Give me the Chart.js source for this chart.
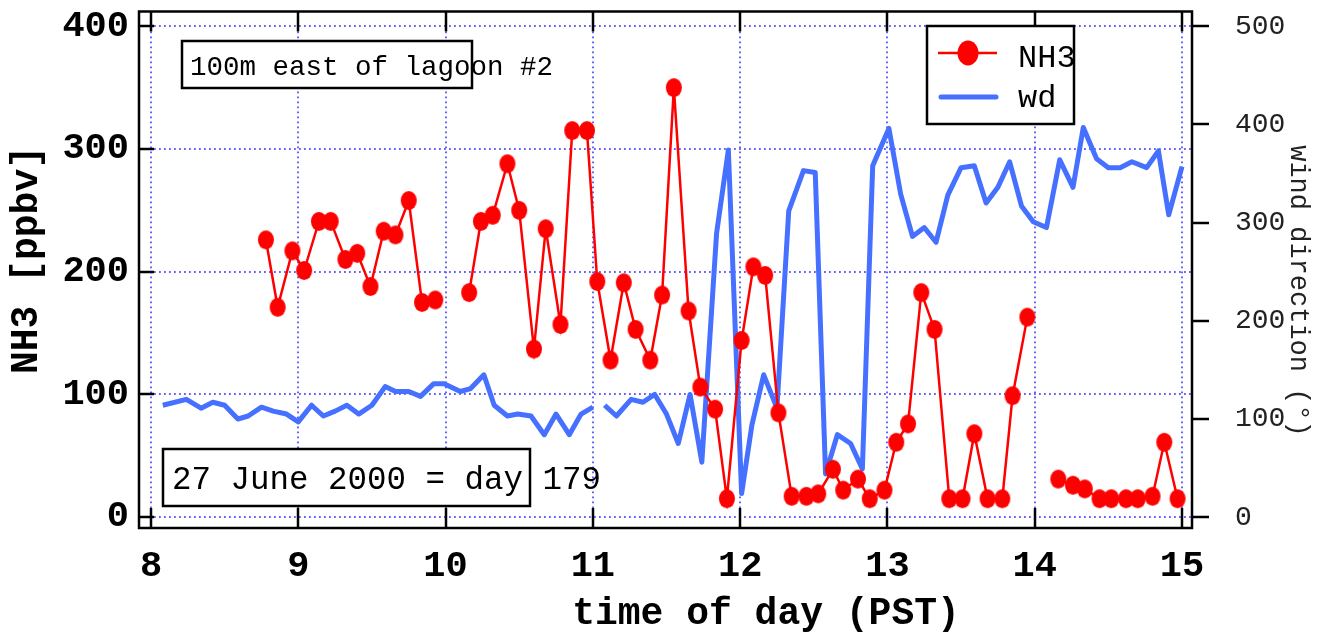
<!DOCTYPE html>
<html>
<head>
<meta charset="UTF-8">
<title>NH3 and wind direction - 27 June 2000</title>
<script src="https://cdn.jsdelivr.net/npm/chart.js"></script>
<style>
  body { margin: 0; background: #fff; }
  canvas { display: block; }
</style>
</head>
<body>
<canvas id="chart" width="1323" height="634"></canvas>
<script>
// time of day (PST, decimal hours); null marks a break in the record
const nh3Time = [8.78, 8.86, 8.96, 9.04, 9.14, 9.22, 9.32, 9.40, 9.49, 9.58, 9.66, 9.75, 9.84, 9.93, 10.05,
  10.16, 10.24, 10.32, 10.42, 10.50, 10.60, 10.68, 10.78, 10.86, 10.96,
  11.03, 11.12, 11.21, 11.29, 11.39, 11.47, 11.55, 11.65, 11.73, 11.83, 11.91,
  12.01, 12.09, 12.17, 12.26, 12.35, 12.45, 12.53, 12.63, 12.70, 12.80, 12.88, 12.98,
  13.06, 13.14, 13.23, 13.32, 13.42, 13.51, 13.59, 13.68, 13.78, 13.85, 13.95, 14.05,
  14.16, 14.26, 14.34, 14.44, 14.52, 14.62, 14.70, 14.80, 14.88, 14.97];
const nh3Ppbv = [226, 171, 217, 201, 241, 241, 210, 215, 188, 233, 230, 258, 175, 177, null,
  183, 241, 246, 288, 250, 137, 235, 157, 315, 315,
  192, 128, 191, 153, 128, 181, 350, 168, 106, 88, 15,
  144, 204, 197, 85, 17, 17, 19, 39, 22, 31, 15, 22,
  61, 76, 183, 153, 15, 15, 68, 15, 15, 99, 163, null,
  31, 26, 23, 15, 15, 15, 15, 17, 61, 15];

const wdTime = [8.08, 8.24, 8.34, 8.42, 8.50, 8.59, 8.66, 8.75, 8.83, 8.92,
  9.00, 9.09, 9.17, 9.25, 9.33, 9.41, 9.50, 9.59, 9.66, 9.75,
  9.83, 9.92, 9.99, 10.10, 10.17, 10.26, 10.33, 10.42, 10.49, 10.58,
  10.67, 10.75, 10.84, 10.92, 11.00, 11.04, 11.08, 11.16, 11.26, 11.34,
  11.42, 11.50, 11.58, 11.66, 11.74, 11.84, 11.92, 12.01, 12.08, 12.16,
  12.25, 12.33, 12.43, 12.51, 12.58, 12.66, 12.75, 12.83, 12.90, 13.01,
  13.09, 13.17, 13.25, 13.33, 13.41, 13.50, 13.59, 13.67, 13.75, 13.83,
  13.91, 13.99, 14.08, 14.17, 14.26, 14.33, 14.42, 14.50, 14.58, 14.66,
  14.76, 14.84, 14.91, 15.00];
const wdDeg = [114, 120, 111, 117, 114, 100, 103, 112, 108, 105,
  97, 114, 103, 108, 114, 105, 114, 133, 128, 128,
  123, 136, 136, 128, 131, 145, 114, 103, 105, 103,
  84, 105, 84, 105, 112, null, 114, 103, 120, 117,
  125, 105, 75, 125, 56, 289, 374, 24, 94, 145,
  111, 312, 353, 351, 44, 84, 75, 49, 358, 396,
  329, 286, 295, 280, 328, 356, 358, 320, 336, 362,
  317, 301, 295, 364, 336, 397, 365, 356, 356, 362,
  356, 373, 308, 357];

const xTicks = [8, 9, 10, 11, 12, 13, 14, 15];
const nh3Ticks = [0, 100, 200, 300, 400];
const wdTicks = [0, 100, 200, 300, 400, 500];

const RED = '#ff0000';
const BLUE = '#4670ff';
const GRID = '#6262ff';
const MONO = '"Liberation Mono", "Courier New", monospace';

// red oval marker (taller than wide, like the original plot symbol)
function ovalMarker(rx, ry, color) {
  const c = document.createElement('canvas');
  c.width = Math.ceil(rx * 2) + 2;
  c.height = Math.ceil(ry * 2) + 2;
  const g = c.getContext('2d');
  g.fillStyle = color;
  g.beginPath();
  g.ellipse(c.width / 2, c.height / 2, rx, ry, 0, 0, Math.PI * 2);
  g.fill();
  return c;
}

function fixBox(size) {
  return function (s) {
    if (s.isHorizontal()) s.height = size; else s.width = size;
    s.paddingLeft = s.paddingRight = s.paddingTop = s.paddingBottom = 0;
  };
}

function line(ctx, x1, y1, x2, y2) {
  ctx.beginPath();
  ctx.moveTo(x1, y1);
  ctx.lineTo(x2, y2);
  ctx.stroke();
}

function textBox(ctx, x1, y1, x2, y2, text, font, tx, ty) {
  ctx.fillStyle = '#fff';
  ctx.fillRect(x1, y1, x2 - x1, y2 - y1);
  ctx.strokeStyle = '#000';
  ctx.lineWidth = 2.5;
  ctx.strokeRect(x1, y1, x2 - x1, y2 - y1);
  ctx.fillStyle = '#000';
  ctx.font = font;
  ctx.textAlign = 'left';
  ctx.textBaseline = 'alphabetic';
  ctx.fillText(text, tx, ty);
}

const framePlugin = {
  id: 'frame',
  beforeDatasetsDraw(chart) {
    const { ctx, chartArea: a, scales: { x, y } } = chart;
    ctx.save();
    // dotted grid
    ctx.strokeStyle = GRID;
    ctx.lineWidth = 2;
    ctx.setLineDash([1.8, 3.2]);
    xTicks.forEach(v => {
      const px = Math.round(x.getPixelForValue(v));
      line(ctx, px, a.top, px, a.bottom);
    });
    nh3Ticks.forEach(v => {
      const py = Math.round(y.getPixelForValue(v));
      line(ctx, a.left, py, a.right, py);
    });
    ctx.setLineDash([]);
    // annotation boxes (text runs past the box edge as in the original)
    textBox(ctx, 182, 41, 472, 88, '100m east of lagoon #2', '27.5px ' + MONO, 190, 75);
    textBox(ctx, 163, 449, 530, 506, '27 June 2000 = day 179', '32.5px ' + MONO, 172, 489);
    ctx.restore();
  },
  afterDatasetsDraw(chart) {
    const { ctx, chartArea: a, scales: { x, y, y2 } } = chart;
    ctx.save();
    ctx.strokeStyle = '#000';
    ctx.lineWidth = 2.5;
    // frame
    ctx.strokeRect(a.left, a.top, a.right - a.left, a.bottom - a.top);
    // tick marks
    xTicks.forEach(v => {
      const px = Math.round(x.getPixelForValue(v));
      line(ctx, px, a.bottom, px, a.bottom - 20);
      line(ctx, px, a.top, px, a.top + 20);
    });
    nh3Ticks.forEach(v => {
      const py = Math.round(y.getPixelForValue(v));
      line(ctx, a.left, py, a.left + 15, py);
    });
    wdTicks.forEach(v => {
      const py = Math.round(y2.getPixelForValue(v));
      line(ctx, a.right, py, a.right + 17, py);
    });

    // legend
    const ds = chart.data.datasets;
    ctx.fillStyle = '#fff';
    ctx.fillRect(927, 26, 147, 98);
    ctx.strokeRect(927, 26, 147, 98);
    ctx.strokeStyle = ds[0].borderColor;
    ctx.lineWidth = ds[0].borderWidth;
    line(ctx, 938, 53, 997, 53);
    ctx.fillStyle = ds[0].borderColor;
    ctx.beginPath();
    ctx.ellipse(968, 53, 10.5, 12.5, 0, 0, Math.PI * 2);
    ctx.fill();
    ctx.strokeStyle = ds[1].borderColor;
    ctx.lineWidth = ds[1].borderWidth;
    ctx.lineCap = 'round';
    line(ctx, 941, 97, 996, 97);
    ctx.fillStyle = '#000';
    ctx.font = '32px ' + MONO;
    ctx.textAlign = 'left';
    ctx.fillText(ds[0].label, 1018, 67);
    ctx.fillText(ds[1].label, 1018, 107);

    // axis titles
    ctx.font = 'bold 38px ' + MONO;
    ctx.textAlign = 'center';
    ctx.textBaseline = 'alphabetic';
    ctx.fillText('time of day (PST)', 766, 624);

    ctx.textBaseline = 'middle';
    ctx.save();
    ctx.translate(27, 260);
    ctx.rotate(-Math.PI / 2);
    ctx.fillText('NH3 [ppbv]', 0, 0);
    ctx.restore();

    ctx.font = '27px ' + MONO;
    ctx.fillStyle = '#222';
    ctx.save();
    ctx.translate(1298, 291);
    ctx.rotate(Math.PI / 2);
    ctx.fillText('wind direction (\u00b0)', 0, 0);
    ctx.restore();
    ctx.restore();
  }
};

new Chart(document.getElementById('chart'), {
  type: 'line',
  data: {
    datasets: [{
      label: 'NH3',
      data: nh3Time.map((t, i) => ({ x: t, y: nh3Ppbv[i] })),
      yAxisID: 'y',
      borderColor: RED,
      backgroundColor: RED,
      borderWidth: 2.5,
      pointStyle: ovalMarker(8, 9.5, RED),
      pointRadius: 9,
      tension: 0
    }, {
      label: 'wd',
      data: wdTime.map((t, i) => ({ x: t, y: wdDeg[i] })),
      yAxisID: 'y2',
      borderColor: BLUE,
      backgroundColor: BLUE,
      borderWidth: 5,
      borderJoinStyle: 'round',
      pointRadius: 0,
      tension: 0
    }]
  },
  options: {
    responsive: false,
    animation: false,
    devicePixelRatio: 1,
    layout: { padding: { top: 5, left: 0, right: 0, bottom: 0 } },
    plugins: { legend: { display: false }, tooltip: { enabled: false } },
    scales: {
      x: {
        type: 'linear',
        position: 'bottom',
        min: 7.9185,
        max: 15.068,
        afterBuildTicks: s => { s.ticks = xTicks.map(v => ({ value: v })); },
        afterFit: fixBox(106),
        grid: { display: false, drawTicks: false },
        border: { display: false },
        ticks: {
          autoSkip: false, maxRotation: 0, padding: 16,
          color: '#000', font: { family: MONO, size: 37, weight: 'bold' }
        }
      },
      y: {
        type: 'linear',
        position: 'left',
        min: -8.85,
        max: 412.07,
        afterBuildTicks: s => { s.ticks = nh3Ticks.map(v => ({ value: v })); },
        afterFit: fixBox(139),
        grid: { display: false, drawTicks: false },
        border: { display: false },
        ticks: { padding: 10, color: '#000', font: { family: MONO, size: 37, weight: 'bold' } }
      },
      y2: {
        type: 'linear',
        position: 'right',
        min: -11.07,
        max: 515.1,
        afterBuildTicks: s => { s.ticks = wdTicks.map(v => ({ value: v })); },
        afterFit: fixBox(131),
        grid: { display: false, drawTicks: false },
        border: { display: false },
        ticks: { padding: 43, color: '#222', font: { family: MONO, size: 28 } }
      }
    }
  },
  plugins: [framePlugin]
});
</script>
</body>
</html>
